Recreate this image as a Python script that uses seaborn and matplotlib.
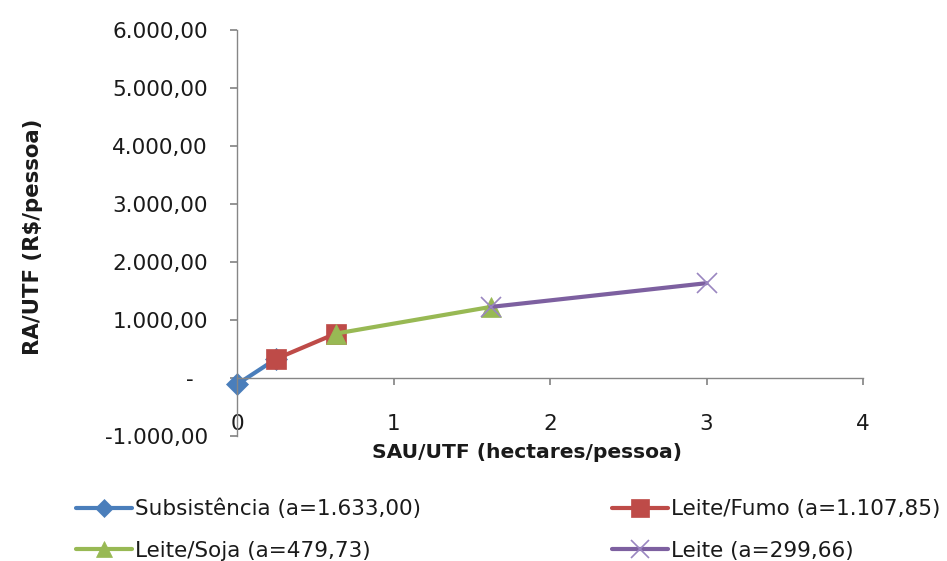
import numpy as np
import pandas as pd
import matplotlib
matplotlib.use("Agg")
import matplotlib.pyplot as plt
from matplotlib.lines import Line2D
from matplotlib.ticker import FuncFormatter
import seaborn as sns

# data
series = ["Subsistência (a=1.633,00)", "Leite/Fumo (a=1.107,85)",
          "Leite/Soja (a=479,73)", "Leite (a=299,66)"]
sau_subsistencia = [0.0, 0.25]
ra_subsistencia = [-110, 330]
sau_fumo = [0.25, 0.63]
ra_fumo = [330, 765]
sau_soja = [0.63, 1.62]
ra_soja = [765, 1225]
sau_leite = [1.62, 3.0]
ra_leite = [1225, 1635]

colors = ["#4A7EBB", "#BE4B48", "#98B954", "#7D60A0"]
markers = ["D", "s", "^", "x"]
msizes = [11, 14.5, 14, 15]

df = pd.concat([
    pd.DataFrame({"SAU": sau_subsistencia, "RA": ra_subsistencia, "serie": series[0]}),
    pd.DataFrame({"SAU": sau_fumo, "RA": ra_fumo, "serie": series[1]}),
    pd.DataFrame({"SAU": sau_soja, "RA": ra_soja, "serie": series[2]}),
    pd.DataFrame({"SAU": sau_leite, "RA": ra_leite, "serie": series[3]}),
], ignore_index=True)

sns.set_theme(style="white")
plt.rcParams['font.family'] = ['DejaVu Sans']
fs = 15.5
gray = "#868686"

fig = plt.figure(figsize=(9.47, 5.61), dpi=100)
ax = fig.add_axes([237 / 947, 1 - 436 / 561, (863 - 237) / 947, (436 - 30) / 561])

for i, s in enumerate(series):
    sns.lineplot(data=df[df["serie"] == s], x="SAU", y="RA", color=colors[i],
                 marker=markers[i], markersize=msizes[i], linewidth=3,
                 sort=False, ax=ax, legend=False)
for i, line in enumerate(ax.lines):
    line.set_markeredgecolor(colors[i] if markers[i] != "x" else "#9A86C0")
    line.set_markerfacecolor(colors[i])
    line.set_markeredgewidth(1.2 if markers[i] == "x" else 0.5)
    line.set_clip_on(False)

ax.set_xlim(0, 4)
ax.set_ylim(-1000, 6000)
ax.set_xticks([0, 1, 2, 3, 4])
ax.set_yticks(np.arange(-1000, 6001, 1000))


def fmt_br(v, pos):
    if v == 0:
        return "-  "
    s = f"{abs(v):,.2f}".replace(",", "X").replace(".", ",").replace("X", ".")
    return ("-" if v < 0 else "") + s


ax.yaxis.set_major_formatter(FuncFormatter(fmt_br))

for side in ["top", "right"]:
    ax.spines[side].set_visible(False)
ax.spines["bottom"].set_position(("data", 0))
for side in ["left", "bottom"]:
    ax.spines[side].set_color(gray)
    ax.spines[side].set_linewidth(1)

ax.tick_params(axis="y", left=True, direction="out", length=5, color=gray,
               labelsize=fs, labelcolor="#1a1a1a", pad=16)
ax.tick_params(axis="x", bottom=True, direction="out", length=5, color=gray,
               labelsize=fs, labelcolor="#1a1a1a", pad=21)

ax.set_xlabel("SAU/UTF (hectares/pessoa)", fontsize=14.6, fontweight="bold", color="#1a1a1a")
ax.set_ylabel("RA/UTF (R$/pessoa)", fontsize=15.3, fontweight="bold", color="#1a1a1a")
ax.xaxis.set_label_coords(0.463, -0.017)
ax.yaxis.set_label_coords(-0.31, 0.49)
ax.grid(False)

handles = []
for i in range(4):
    handles.append(Line2D([], [], color=colors[i], linewidth=3, marker=markers[i],
                          markersize=msizes[i] * 0.85,
                          markerfacecolor=colors[i],
                          markeredgecolor=colors[i] if markers[i] != "x" else "#9A86C0",
                          markeredgewidth=1.2 if markers[i] == "x" else 0.5))
# legend fills row by row in the reference
order = [0, 2, 1, 3]
fig.legend([handles[k] for k in order], [series[k] for k in order], ncol=2,
           loc="upper left", bbox_to_anchor=(76 / 947, 1 - 499 / 561), frameon=False,
           fontsize=fs, handlelength=2.6, handletextpad=0.15,
           columnspacing=8.85, labelspacing=0.98, borderpad=0, borderaxespad=0,
           labelcolor="#1a1a1a")

fig.savefig("out.png", dpi=100)
